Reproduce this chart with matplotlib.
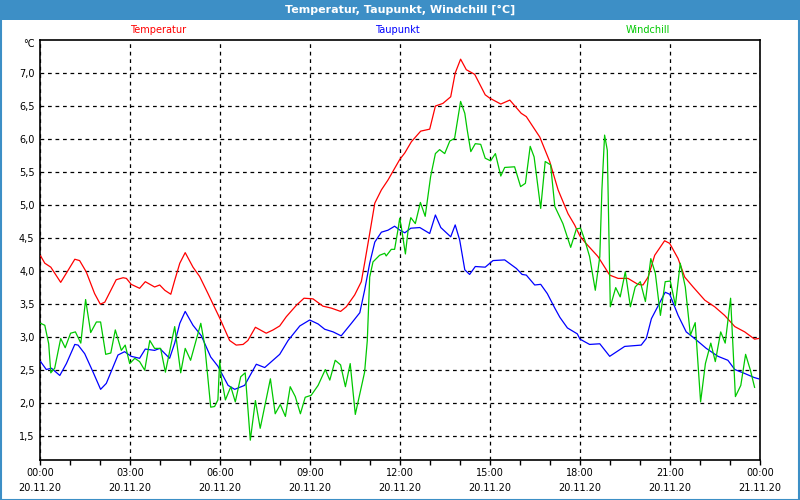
import matplotlib
matplotlib.use("Agg")
import matplotlib.pyplot as plt
from matplotlib.patches import Rectangle
from matplotlib.ticker import MultipleLocator, FuncFormatter

title = "Temperatur, Taupunkt, Windchill [°C]"
series_names = ["Temperatur", "Taupunkt", "Windchill"]
x_tick_labels = ["00:00\n20.11.20", "03:00\n20.11.20", "06:00\n20.11.20", "09:00\n20.11.20",
                 "12:00\n20.11.20", "15:00\n20.11.20", "18:00\n20.11.20", "21:00\n20.11.20",
                 "00:00\n21.11.20"]

temp_hours = [0.02, 0.16, 0.36, 0.69, 0.88, 1.16, 1.32, 1.54, 1.82, 2.01, 2.16, 2.54, 2.77, 2.88,
              3.04, 3.32, 3.51, 3.82, 3.99, 4.16, 4.36, 4.49, 4.66, 4.84, 5.10, 5.32, 5.60, 5.82,
              6.0, 6.32, 6.54, 6.77, 6.93, 7.18, 7.54, 7.77, 7.99, 8.21, 8.54, 8.8, 9.1, 9.43,
              9.71, 10.02, 10.21, 10.49, 10.71, 10.82, 10.99, 11.16, 11.38, 11.6, 11.99, 12.16,
              12.38, 12.69, 12.99, 13.18, 13.43, 13.69, 13.84, 14.02, 14.21, 14.49, 14.84, 14.99,
              15.36, 15.66, 16.04, 16.21, 16.66, 16.99, 17.27, 17.6, 17.82, 18.0, 18.16, 18.6,
              18.99, 19.27, 19.6, 19.93, 20.1, 20.27, 20.49, 20.82, 20.99, 21.27, 21.49, 21.77,
              22.16, 22.49, 22.82, 23.16, 23.49, 23.82, 23.95]
temp_values = [4.23, 4.12, 4.06, 3.83, 3.97, 4.18, 4.16, 3.99, 3.66, 3.50, 3.53, 3.87, 3.90, 3.89,
               3.80, 3.74, 3.84, 3.76, 3.79, 3.71, 3.65, 3.86, 4.12, 4.28, 4.06, 3.92, 3.66, 3.45,
               3.28, 2.95, 2.88, 2.89, 2.95, 3.15, 3.06, 3.11, 3.17, 3.31, 3.48, 3.59, 3.58, 3.47,
               3.44, 3.39, 3.46, 3.64, 3.84, 4.12, 4.57, 5.03, 5.23, 5.38, 5.69, 5.79,
               5.96, 6.12, 6.15, 6.50, 6.54, 6.64, 7.00, 7.21, 7.05, 6.98, 6.67, 6.62,
               6.53, 6.59, 6.39, 6.34, 6.03, 5.66, 5.23, 4.87, 4.70, 4.53, 4.44, 4.22,
               3.94, 3.89, 3.89, 3.80, 3.79, 3.91, 4.24, 4.46, 4.42, 4.19, 3.91, 3.76,
               3.56, 3.46, 3.33, 3.16, 3.08, 2.97, 2.98]

dew_hours = [0.02, 0.21, 0.38, 0.66, 0.88, 1.16, 1.27, 1.49, 1.77, 2.02, 2.21, 2.6, 2.82, 3.04,
             3.32, 3.51, 3.82, 3.99, 4.32, 4.49, 4.66, 4.84, 5.10, 5.38, 5.69, 5.93, 6.0, 6.27,
             6.49, 6.82, 7.21, 7.49, 7.99, 8.27, 8.66, 8.99, 9.27, 9.49, 9.77, 10.04, 10.38,
             10.66, 10.82, 10.99, 11.16, 11.38, 11.6, 11.82, 12.0, 12.16, 12.36, 12.66, 12.99,
             13.18, 13.36, 13.69, 13.84, 13.99, 14.16, 14.32, 14.51, 14.84, 15.1, 15.49, 15.88,
             16.07, 16.21, 16.49, 16.69, 16.91, 17.16, 17.33, 17.58, 17.91, 18.0, 18.32, 18.66,
             18.99, 19.49, 20.04, 20.21, 20.38, 20.84, 20.99, 21.27, 21.54, 21.82, 22.21, 22.6,
             22.93, 23.16, 23.49, 23.8, 23.95]
dew_values = [2.63, 2.51, 2.53, 2.42, 2.60, 2.89, 2.88, 2.75, 2.47, 2.21, 2.30, 2.73, 2.78, 2.71,
              2.68, 2.82, 2.80, 2.83, 2.68, 2.91, 3.21, 3.39, 3.18, 3.02, 2.70, 2.56, 2.50, 2.27,
              2.21, 2.27, 2.59, 2.54, 2.74, 2.95, 3.17, 3.26, 3.20, 3.12, 3.08, 3.02, 3.21,
              3.37, 3.71, 4.12, 4.44, 4.59, 4.62, 4.68, 4.62, 4.58, 4.65, 4.66, 4.57,
              4.85, 4.66, 4.52, 4.70, 4.47, 4.02, 3.95, 4.07, 4.06, 4.16, 4.17, 4.04,
              3.95, 3.94, 3.79, 3.80, 3.66, 3.44, 3.30, 3.14, 3.05, 2.97, 2.89, 2.90,
              2.71, 2.86, 2.88, 2.98, 3.28, 3.68, 3.65, 3.33, 3.08, 2.98, 2.83, 2.71,
              2.65, 2.51, 2.45, 2.39, 2.37]

chill_hours = [0.02, 0.16, 0.29, 0.36, 0.49, 0.69, 0.84, 1.02, 1.18, 1.36, 1.52, 1.69, 1.88, 2.02,
               2.19, 2.36, 2.51, 2.71, 2.84, 2.99, 3.16, 3.32, 3.49, 3.66, 3.82, 4.02, 4.18, 4.49,
               4.69, 4.84, 5.02, 5.36, 5.49, 5.69, 5.82, 5.93, 5.99, 6.04, 6.18, 6.36, 6.51, 6.69,
               6.84, 7.01, 7.18, 7.34, 7.68, 7.84, 8.01, 8.18, 8.34, 8.51, 8.68, 8.84, 9.04, 9.27,
               9.51, 9.66, 9.84, 10.02, 10.18, 10.34, 10.51, 10.82, 10.91, 10.99, 11.1, 11.32,
               11.49, 11.54, 11.71, 11.82, 11.93, 11.99, 12.04, 12.18, 12.27, 12.36, 12.51, 12.68,
               12.84, 13.02, 13.18, 13.32, 13.49, 13.66, 13.82, 14.02, 14.16, 14.24, 14.36, 14.51,
               14.69, 14.84, 15.02, 15.18, 15.36, 15.49, 15.82, 16.02, 16.18, 16.34, 16.47, 16.69,
               16.84, 17.02, 17.16, 17.43, 17.69, 17.88, 18.02, 18.16, 18.32, 18.51, 18.66, 18.73,
               18.82, 18.91, 19.01, 19.19, 19.34, 19.51, 19.68, 19.84, 20.01, 20.18, 20.36, 20.51,
               20.68, 20.84, 21.01, 21.18, 21.34, 21.51, 21.68, 21.84, 22.02, 22.18, 22.36, 22.51,
               22.69, 22.84, 23.02, 23.18, 23.36, 23.52, 23.68, 23.82]
chill_values = [3.21, 3.18, 2.90, 2.46, 2.53, 2.98, 2.84, 3.06, 3.08, 2.91, 3.57, 3.07, 3.23, 3.23,
                2.74, 2.76, 3.11, 2.80, 2.88, 2.60, 2.68, 2.63, 2.50, 2.95, 2.83, 2.83, 2.47, 3.16,
                2.46, 2.83, 2.65, 3.21, 2.88, 1.94, 1.95, 2.05, 2.65, 2.40, 2.05, 2.25, 2.02, 2.40,
                2.46, 1.44, 2.04, 1.62, 2.37, 1.84, 1.98, 1.80, 2.25, 2.10, 1.84, 2.09, 2.12, 2.27,
                2.51, 2.35, 2.65, 2.58, 2.25, 2.60, 1.83, 2.47, 2.95, 3.91, 4.14, 4.24,
                4.27, 4.23, 4.33, 4.33, 4.62, 4.80, 4.68, 4.26, 4.62, 4.81, 4.72, 5.04,
                4.83, 5.43, 5.78, 5.84, 5.78, 5.97, 6.01, 6.57, 6.39, 6.14, 5.81, 5.93,
                5.92, 5.71, 5.67, 5.78, 5.44, 5.57, 5.58, 5.28, 5.33, 5.89, 5.73, 4.95,
                5.66, 5.61, 4.98, 4.72, 4.36, 4.64, 4.65, 4.47, 4.22, 3.71, 4.22, 5.23,
                6.06, 5.83, 3.46, 3.75, 3.61, 3.99, 3.46, 3.76, 3.84, 3.54, 4.19, 3.97,
                3.33, 3.84, 3.85, 3.48, 4.12, 3.76, 3.03, 3.22, 2.02, 2.60, 2.91, 2.63,
                3.08, 2.91, 3.59, 2.10, 2.27, 2.74, 2.50, 2.24]

W, H = 800, 500
fig = plt.figure(figsize=(8, 5), dpi=100)
fig.patch.set_facecolor("white")

# title bar and border
bar_color = "#3d8fc6"
fig.patches.append(Rectangle((0, 1 - 20 / H), 1, 20 / H, transform=fig.transFigure,
                             facecolor=bar_color, edgecolor="none", zorder=0))
fig.patches.append(Rectangle((0.5 / W, 0.5 / H), 1 - 2 / W, 1 - 1.5 / H, transform=fig.transFigure,
                             facecolor="none", edgecolor=bar_color, linewidth=1.5, zorder=1))
fig.text(0.5, 1 - 10 / H, title, color="white", fontsize=8, fontweight="bold",
         ha="center", va="center", family="DejaVu Sans")

ax = fig.add_axes([40 / W, 1 - 460 / H, 720 / W, 420 / H])
ax.set_facecolor("white")

colors = ["#ff0000", "#0000ff", "#00c800"]
ax.plot(temp_hours, temp_values, color=colors[0], lw=0.9, zorder=3)
ax.plot(dew_hours, dew_values, color=colors[1], lw=0.9, zorder=3)
ax.plot(chill_hours, chill_values, color=colors[2], lw=0.9, zorder=4)

ax.set_xlim(0, 24)
ax.set_ylim(1.14, 7.5)
ax.xaxis.set_minor_locator(MultipleLocator(1))
ax.set_xticks(range(0, 25, 3))
ax.set_xticklabels(x_tick_labels, fontsize=7, linespacing=1.6)
ax.set_yticks([1.5, 2.0, 2.5, 3.0, 3.5, 4.0, 4.5, 5.0, 5.5, 6.0, 6.5, 7.0])
ax.yaxis.set_major_formatter(FuncFormatter(lambda v, p: f"{v:.1f}".replace(".", ",")))
ax.tick_params(axis="y", length=0, labelsize=7, pad=4)
ax.tick_params(axis="x", which="major", length=3.5, width=1, pad=2.5, direction="out")
ax.tick_params(axis="x", which="minor", length=3.5, width=1, direction="out")
ax.grid(True, which="major", color="black", linestyle=(0, (3, 3)), linewidth=0.9)
for s in ax.spines.values():
    s.set_color("black")
    s.set_linewidth(1.2)

fig.text(35 / W, 1 - 44 / H, "°C", fontsize=7, ha="right", va="center")
label_x = [158, 397, 648]
for name, c, lx in zip(series_names, colors, label_x):
    fig.text(lx / W, 1 - 30 / H, name, color=c, fontsize=7, ha="center", va="center")

fig.savefig("out.png", dpi=100)
